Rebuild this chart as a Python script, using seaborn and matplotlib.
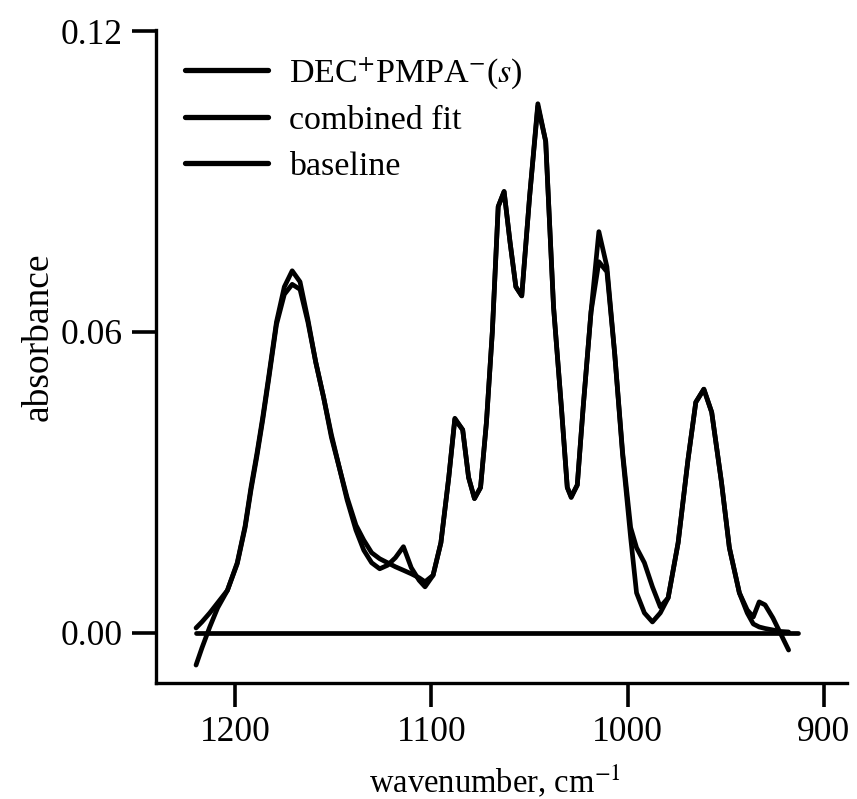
import numpy as np
import pandas as pd
import matplotlib
matplotlib.use("Agg")
import matplotlib.pyplot as plt
import seaborn as sns

# ---- data ----
wavenumber = [1220, 1217, 1213, 1209, 1204, 1199, 1195, 1192, 1189, 1186,
              1183, 1179, 1175, 1171, 1167, 1163, 1159, 1155, 1151, 1147,
              1143, 1138.5, 1134.5, 1130.5, 1126.4, 1122.4, 1118.4, 1114.3, 1110.3, 1106.3,
              1103.3, 1099.2, 1095.2, 1091.2, 1088.1, 1084.1, 1081.1, 1078.1, 1075.0, 1072,
              1069, 1066, 1063, 1060, 1057, 1054, 1050, 1045.8, 1041.8, 1037.8,
              1033.8, 1030.8, 1028.8, 1025.7, 1022.7, 1018.7, 1014.7, 1010.6, 1006.6, 1002.6,
              998.5, 995.5, 991.5, 987.4, 983.4, 979.4, 974.3, 969.3, 965.3, 961.2,
              957.2, 952.2, 948.2, 943.1, 939.1, 936, 933, 930, 926, 922, 918]

spectrum = [-0.0064, -0.0030, 0.0012, 0.0050, 0.0085, 0.0140, 0.0213, 0.0290, 0.0357, 0.0430,
            0.0510, 0.0620, 0.0690, 0.0722, 0.0700, 0.0625, 0.0540, 0.0470, 0.0390, 0.0330,
            0.0265, 0.0205, 0.0165, 0.0140, 0.0128, 0.0135, 0.0150, 0.0172, 0.0130, 0.0105,
            0.0092, 0.0115, 0.0180, 0.0310, 0.0428, 0.0405, 0.0310, 0.0268, 0.0290, 0.0420,
            0.0600, 0.0850, 0.0880, 0.0780, 0.0690, 0.0672, 0.0870, 0.1055, 0.0980, 0.0650,
            0.0450, 0.0290, 0.0270, 0.0295, 0.0450, 0.0640, 0.0800, 0.0730, 0.0555, 0.0360,
            0.0210, 0.0170, 0.0140, 0.0092, 0.0052, 0.0070, 0.0180, 0.0345, 0.0460, 0.0486,
            0.0440, 0.0300, 0.0170, 0.0080, 0.0046, 0.0032, 0.0062, 0.0056, 0.0030, -0.0002,
            -0.0034]

combined_fit = [0.0010, 0.0022, 0.0040, 0.0060, 0.0085, 0.0138, 0.0210, 0.0285, 0.0352, 0.0425,
                0.0505, 0.0615, 0.0675, 0.0695, 0.0685, 0.0620, 0.0540, 0.0470, 0.0395, 0.0330,
                0.0270, 0.0215, 0.0185, 0.0160, 0.0148, 0.0140, 0.0132, 0.0125, 0.0118, 0.0110,
                0.0102, 0.0115, 0.0180, 0.0310, 0.0426, 0.0405, 0.0310, 0.0268, 0.0290, 0.0420,
                0.0600, 0.0850, 0.0880, 0.0780, 0.0690, 0.0672, 0.0870, 0.1050, 0.0980, 0.0650,
                0.0450, 0.0290, 0.0272, 0.0295, 0.0450, 0.0640, 0.0740, 0.0720, 0.0555, 0.0355,
                0.0190, 0.0080, 0.0040, 0.0022, 0.0040, 0.0070, 0.0180, 0.0345, 0.0460, 0.0486,
                0.0440, 0.0300, 0.0170, 0.0080, 0.0040, 0.0018, 0.0012, 0.0009, 0.0006, 0.0003,
                0.0002]

baseline_x = [1220, 913]
baseline_y = [0.0, 0.0]

series_labels = [r"DEC$^{+}$PMPA$^{-}$($s$)", "combined fit", "baseline"]
x_ticks = [1200, 1100, 1000, 900]
y_ticks = [0.00, 0.06, 0.12]
y_tick_labels = ["0.00", "0.06", "0.12"]

# ---- styling ----
sns.set_theme(style="ticks")
plt.rcParams["font.family"] = ["Liberation Serif", "DejaVu Serif"]
plt.rcParams["mathtext.fontset"] = "stix"

fig = plt.figure(figsize=(8.57, 7.99), dpi=100)
ax = fig.add_axes([156 / 857, 1 - 683 / 799, (846.7 - 156) / 857, (683 - 30) / 799])

df_spec = pd.DataFrame({"wn": wavenumber, "a": spectrum})
df_fit = pd.DataFrame({"wn": wavenumber, "a": combined_fit})
df_base = pd.DataFrame({"wn": baseline_x, "a": baseline_y})

lw = 3.4
sns.lineplot(data=df_spec, x="wn", y="a", ax=ax, color="black", lw=lw,
             label=series_labels[0], sort=False, estimator=None)
sns.lineplot(data=df_fit, x="wn", y="a", ax=ax, color="black", lw=lw,
             label=series_labels[1], sort=False, estimator=None)
sns.lineplot(data=df_base, x="wn", y="a", ax=ax, color="black", lw=lw,
             label=series_labels[2], sort=False, estimator=None)

ax.set_xlim(1240.4, 888.4)
ax.set_ylim(-0.00997, 0.1202)
ax.set_xticks(x_ticks)
ax.set_xticklabels([str(t) for t in x_ticks])
ax.set_yticks(y_ticks)
ax.set_yticklabels(y_tick_labels)

for s in ["top", "right"]:
    ax.spines[s].set_visible(False)
for s in ["left", "bottom"]:
    ax.spines[s].set_linewidth(2.4)
    ax.spines[s].set_color("black")

ax.tick_params(axis="both", which="major", direction="out", length=17, width=2.6,
               color="black", labelsize=25.5, labelcolor="black", pad=7)

ax.set_xlabel(r"wavenumber, cm$^{-1}$", fontsize=23.5, color="black", labelpad=10)
ax.set_ylabel("absorbance", fontsize=27, color="black")
ax.yaxis.set_label_coords(-0.145, 0.53)
ax.xaxis.label.set_x(0.49)

leg = ax.legend(loc="upper left", bbox_to_anchor=(0.042, 0.962), frameon=False,
                fontsize=24.5, handlelength=2.45, handletextpad=0.6, labelspacing=0.42,
                borderaxespad=0, borderpad=0)
for line in leg.get_lines():
    line.set_linewidth(3.8)
for t in leg.get_texts():
    t.set_color("black")

fig.savefig("out.png", dpi=100)
